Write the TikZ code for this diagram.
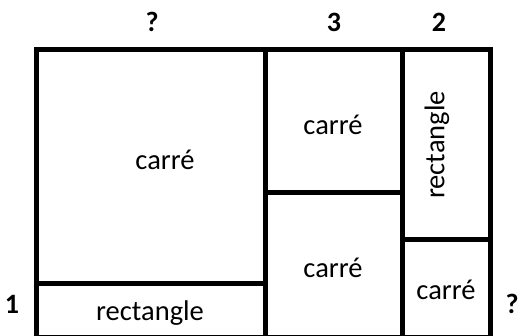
\documentclass[tikz,border=0pt]{standalone}
\usepackage{fontspec}
\setmainfont{Carlito}
\usepackage{tikz}

\tikzset{
  mur/.style={line width=5pt, line cap=rect},
  mot/.style={font=\fontsize{28.5}{28.5}\selectfont, inner sep=0pt},
  cote/.style={font=\bfseries\fontsize{28}{28}\selectfont, inner sep=0pt}
}

\begin{document}
\begin{tikzpicture}[x=1pt,y=-1pt]
\useasboundingbox (0,0) rectangle (522,336);

% cadre
\draw[mur] (36,50) rectangle (490,338);
\draw[mur] (265,50) -- (265,338);
\draw[mur] (402,50) -- (402,338);

% separations
\draw[mur] (36,284) -- (265,284);
\draw[mur] (265,193) -- (402,193);
\draw[mur] (402,240) -- (490,240);

% textes des cases
\node[mot] (grand) at (165,160) {carré};
\node[mot] (bande) at (150,313) {rectangle};
\node[mot] (haut) at (333,125) {carré};
\node[mot] (bas) at (333,268) {carré};
\node[mot, rotate=90] (droit) at (437,145) {rectangle};
\node[mot] (petit) at (446,290) {carré};

% cotes
\node[cote] (q1) at (152,22) {?};
\node[cote] (c3) at (334,22) {3};
\node[cote] (c2) at (439,22) {2};
\node[cote] (c1) at (12,304) {1};
\node[cote] (q2) at (512,304) {?};
\end{tikzpicture}
\end{document}
